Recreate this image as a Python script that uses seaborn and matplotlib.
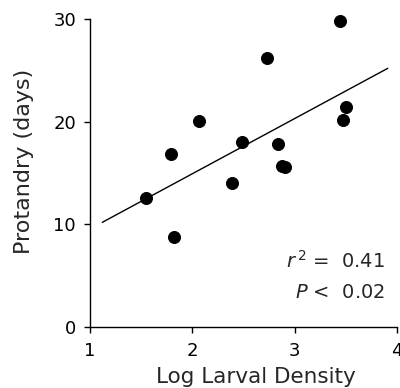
import numpy as np
import pandas as pd
import seaborn as sns
import matplotlib
matplotlib.use("Agg")
import matplotlib.pyplot as plt

# data
log_density = [1.55, 1.79, 1.82, 2.07, 2.39, 2.49, 2.73, 2.84, 2.88, 2.91, 3.44, 3.47, 3.50]
protandry = [12.6, 16.9, 8.8, 20.1, 14.0, 18.0, 26.2, 17.8, 15.7, 15.6, 29.8, 20.2, 21.4]
fit_x = [1.12, 3.91]
fit_y = [10.2, 25.2]

df = pd.DataFrame({'x': log_density, 'y': protandry})
fit_df = pd.DataFrame({'x': fit_x, 'y': fit_y})

sns.set_style('ticks')
plt.rcParams['font.family'] = ['DejaVu Sans']

fig = plt.figure(figsize=(4, 3.88), dpi=100)
ax = fig.add_axes([0.225, 0.157, 0.7675, 0.794])

sns.lineplot(data=fit_df, x='x', y='y', color='black', linewidth=1, ax=ax)
sns.scatterplot(data=df, x='x', y='y', color='black', s=75, edgecolor='black',
                ax=ax, zorder=3, clip_on=False)

ax.set_xlim(1, 4)
ax.set_ylim(0, 30)
ax.set_xticks([1, 2, 3, 4])
ax.set_yticks([0, 10, 20, 30])
ax.tick_params(labelsize=13, length=4, width=1, direction='out', colors='black')
ax.tick_params(axis='x', pad=7)
ax.tick_params(axis='y', pad=6)
sns.despine(ax=ax)
for s in ['left', 'bottom']:
    ax.spines[s].set_linewidth(1)
    ax.spines[s].set_color('black')

ax.set_xlabel('Log Larval Density', fontsize=15.5, va='center')
ax.set_ylabel('Protandry (days)', fontsize=16, va='center')
ax.xaxis.set_label_coords(0.54, -0.162)
ax.yaxis.set_label_coords(-0.215, 0.539)

ax.text(3.88, 5.8, r'$r^{\,2}$ =  0.41', ha='right', va='baseline', fontsize=14)
ax.text(3.88, 2.8, r'$P$ <  0.02', ha='right', va='baseline', fontsize=14)

fig.savefig('out.png', dpi=100)
